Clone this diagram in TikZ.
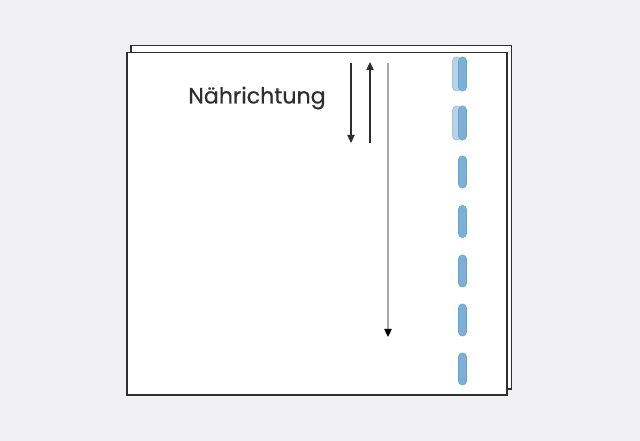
\documentclass[tikz,border=0pt]{standalone}
\usepackage{fontspec}
\setmainfont{Poppins}[FakeBold=0.4]
\usetikzlibrary{arrows.meta}
\definecolor{bg}{HTML}{F0F0F2}
\definecolor{edge}{HTML}{2E2E2E}
\definecolor{stitchblue}{HTML}{7BB0D7}
\definecolor{stitchedge}{HTML}{6BA3CD}
\definecolor{txt}{HTML}{2F2F2F}
\begin{document}
\begin{tikzpicture}[x=0.75pt,y=-0.75pt,
  sheet/.style={fill=white,draw=edge,line width=1.1pt},
  stitch/.style={fill=stitchblue,draw=stitchedge,line width=0.5pt,rounded corners=2.9pt},
  ghost/.style={stitch,fill opacity=0.55,draw opacity=0.55},
  arr/.style={line width=0.8pt,draw=edge,-{Triangle[width=5.5pt,length=6pt]}},
  lightarr/.style={line width=0.9pt,draw=gray!70,-{Triangle[width=5.5pt,length=6pt,color=black,fill=black]}}]
\fill[bg] (0,0) rectangle (640,441);
\useasboundingbox (0,0) rectangle (640,441);
% sheets
\draw[sheet] (131,45.5) rectangle (511.5,389);
\draw[sheet] (127,52.5) rectangle (507,395);
% label
\node[text=txt,font=\fontsize{16.6pt}{19pt}\selectfont,anchor=base] (lbl) at (257,103.5) {Nährichtung};
% arrows
\coordinate (a1s) at (351,63);
\coordinate (a1e) at (351,143);
\coordinate (a2s) at (370,143);
\coordinate (a2e) at (370,62);
\coordinate (a3s) at (388,63);
\coordinate (a3e) at (388,337);
\draw[arr] (a1s) -- (a1e);
\draw[arr] (a2s) -- (a2e);
\draw[lightarr] (a3s) -- (a3e);
% doubled stitches
\foreach \y in {57,106}{
  \draw[ghost] (452.5,\y) rectangle (460.5,\y+34);
  \draw[stitch] (458.5,\y) rectangle (466.5,\y+34);
}
% single stitches
\foreach \y in {156,205.5,255,304,353}{
  \draw[stitch] (458.5,\y) rectangle (466.5,\y+32);
}
\end{tikzpicture}
\end{document}
